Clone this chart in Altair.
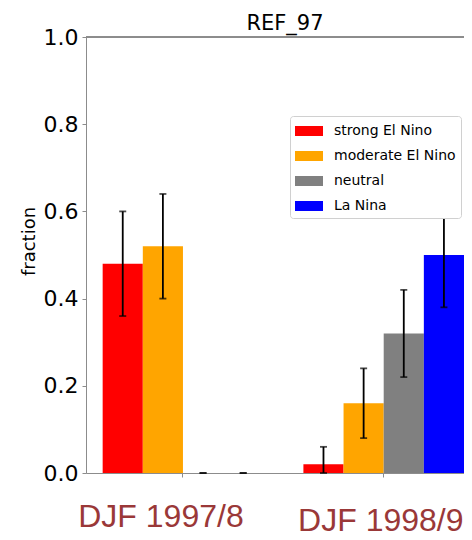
import altair as alt
import pandas as pd

# ---- data ----
groups = ["DJF 1997/8", "DJF 1998/99"]
categories = ["strong El Nino", "moderate El Nino", "neutral", "La Nina"]
colors = ["#ff0000", "#ffa500", "#808080", "#0000ff"]

values_9798 = [0.48, 0.52, 0.0, 0.0]
lower_9798 = [0.36, 0.40, 0.0, 0.0]
upper_9798 = [0.60, 0.64, 0.0, 0.0]

values_9899 = [0.02, 0.16, 0.32, 0.50]
lower_9899 = [0.00, 0.08, 0.22, 0.38]
upper_9899 = [0.06, 0.24, 0.42, 0.62]

y_ticks = [0.0, 0.2, 0.4, 0.6, 0.8, 1.0]

rows = []
for g, vals, lo, hi in [(groups[0], values_9798, lower_9798, upper_9798),
                        (groups[1], values_9899, lower_9899, upper_9899)]:
    for c, v, l, h in zip(categories, vals, lo, hi):
        rows.append({"season": g, "category": c, "fraction": v, "lo": l, "hi": h})
df = pd.DataFrame(rows)

AXIS_GREY = "#8c8c8c"
LABEL_RED = "#9a3838"

x_enc = alt.X(
    "season:N",
    sort=groups,
    scale=alt.Scale(paddingInner=0.2, paddingOuter=0.0415, align=1),
    axis=alt.Axis(
        title=None,
        labelFont="Liberation Sans",
        labelFontSize=32,
        labelColor=LABEL_RED,
        labelAngle=0,
        labelBaseline="top",
        labelPadding={"condition": {"test": "datum.value == 'DJF 1997/8'", "value": 24}, "value": 28},
        labelOffset={"condition": {"test": "datum.value == 'DJF 1997/8'", "value": -22}, "value": 6},
        tickSize=4,
        tickColor=AXIS_GREY,
        domainColor=AXIS_GREY,
        labelLimit=0,
        labelOverlap=False,
        labelFlush=False,
    ),
)
xoff = alt.XOffset("category:N", sort=categories,
                   scale=alt.Scale(paddingInner=0, paddingOuter=0))

y_scale = alt.Scale(domain=[0, 1], nice=False, zero=True)

bars = alt.Chart(df).mark_bar().encode(
    x=x_enc,
    xOffset=xoff,
    y=alt.Y(
        "fraction:Q",
        scale=y_scale,
        axis=alt.Axis(
            title="fraction",
            values=y_ticks,
            format=".1f",
            grid=False,
            labelFont="DejaVu Sans",
            labelFontSize=22,
            labelColor="black",
            labelPadding=4,
            tickSize=4,
            tickColor=AXIS_GREY,
            domainColor=AXIS_GREY,
            titleFont="DejaVu Sans",
            titleFontSize=18,
            titleFontWeight="normal",
            titleColor="black",
            titlePadding=5,
            titleY=204,
        ),
    ),
    fill=alt.Fill(
        "category:N",
        sort=categories,
        scale=alt.Scale(domain=categories, range=colors),
        legend=alt.Legend(
            title=None,
            orient="none",
            legendX=204,
            legendY=79,
            padding=5,
            fillColor="white",
            strokeColor="#d0d0d0",
            cornerRadius=3,
            symbolType="M-1,-0.5H1.8V0.5H-1Z",
            symbolSize=400,
            symbolStrokeWidth=0,
            labelFont="DejaVu Sans",
            labelFontSize=14,
            labelColor="black",
            labelOffset=19,
            rowPadding=8,
            labelLimit=0,
            zindex=1,
        ),
    ),
)

err_rule = alt.Chart(df).mark_rule(color="black", strokeWidth=1.8).encode(
    x=alt.X("season:N", sort=groups),
    xOffset=xoff,
    y=alt.Y("lo:Q", scale=y_scale),
    y2="hi:Q",
)

cap_lo = alt.Chart(df).mark_tick(color="black", orient="horizontal", size=7, thickness=1.8).encode(
    x=alt.X("season:N", sort=groups),
    xOffset=xoff,
    y=alt.Y("lo:Q", scale=y_scale),
)
cap_hi = alt.Chart(df).mark_tick(color="black", orient="horizontal", size=7, thickness=1.8).encode(
    x=alt.X("season:N", sort=groups),
    xOffset=xoff,
    y=alt.Y("hi:Q", scale=y_scale),
)

top_spine = alt.Chart(df).mark_rule(color=AXIS_GREY, strokeWidth=1).encode(
    y=alt.datum(1.0)
)

chart = alt.layer(bars, err_rule, cap_lo, cap_hi, top_spine).properties(
    width=378,
    height=436,
    title=alt.TitleParams(
        "REF_97",
        font="DejaVu Sans",
        fontSize=21,
        fontWeight="normal",
        color="black",
        dx=10,
        offset=-8,
    ),
    autosize=alt.AutoSizeParams(type="none"),
    padding={"left": 78, "top": 29, "right": 0, "bottom": 58},
).configure_view(stroke=None).configure(background="white")

chart.save("out.html", embed_options={"renderer": "svg", "actions": False})
